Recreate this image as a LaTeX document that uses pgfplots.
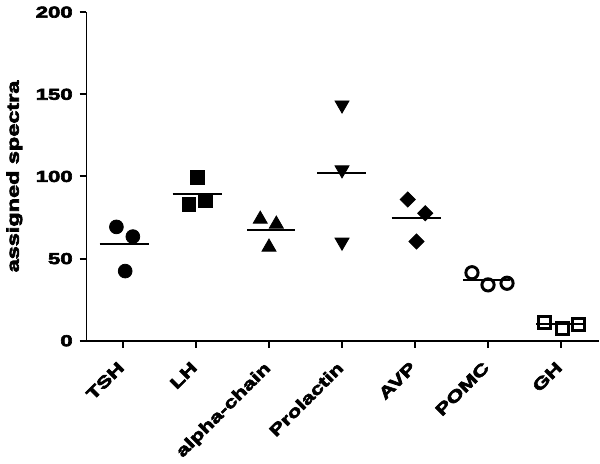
\documentclass[border=0pt]{standalone}
\usepackage{fontspec}
\setmainfont[FakeStretch=1.4, BoldFeatures={FakeBold=4}]{Liberation Sans}
\usepackage{pgfplots}
\pgfplotsset{compat=1.18}
\begin{document}
\begin{tikzpicture}
\begin{axis}[
 scale only axis, width=260pt, height=166.7pt,
 xmin=-0.5, xmax=6.52, ymin=0, ymax=200,
 axis x line*=bottom, axis y line*=left,
 axis line style={-, line width=1pt},
 xtick={0,...,6}, xticklabels={TSH,LH,alpha-chain,Prolactin,AVP,POMC,GH},
 ytick={0,50,100,150,200},
 tick align=outside, major tick length=3.5pt,
 every tick/.style={line width=1pt, black},
 /pgf/number format/assume math mode=true,
 xticklabel style={xshift=-3pt, yshift=-5pt, rotate=45, anchor=north east, font=\bfseries\fontsize{8.2}{9}\selectfont, inner sep=1pt},
 yticklabel style={font=\bfseries\fontsize{8}{9}\selectfont},
 ylabel={assigned spectra},
 ylabel style={font=\bfseries\fontsize{8.5}{10}\selectfont},
 clip=false,
]
% mean lines
\addplot[black, line width=1pt] coordinates {(-0.32,58.8) (0.35,58.8)};
\addplot[black, line width=1pt] coordinates {(0.68,89.4) (1.35,89.4)};
\addplot[black, line width=1pt] coordinates {(1.70,67.6) (2.35,67.6)};
\addplot[black, line width=1pt] coordinates {(2.66,102) (3.33,102)};
\addplot[black, line width=1pt] coordinates {(3.68,74.8) (4.35,74.8)};
\addplot[black, line width=1pt] coordinates {(4.66,37) (5.30,37)};
\addplot[black, line width=1pt] coordinates {(5.66,10) (6.30,10)};
% points
\addplot[only marks, mark=*, mark size=3.5pt, black] coordinates {(-0.09,69.3) (0.135,63.4) (0.03,42.4)};
\addplot[only marks, mark=square*, mark size=3.4pt, black] coordinates {(1.02,99.4) (0.9,83) (1.13,85)};
\addplot[only marks, mark=triangle*, mark size=4.1pt, black] coordinates {(1.88,74) (2.1,71) (2.0,57)};
\addplot[only marks, mark=triangle*, mark size=4.1pt, black, mark options={rotate=180}] coordinates {(3.0,143.5) (3.0,104) (3.0,60)};
\addplot[only marks, mark=square*, mark size=2.7pt, black, mark options={rotate=45}] coordinates {(3.9,86) (4.14,77.6) (4.02,60.4)};
\addplot[only marks, mark=o, mark size=3.1pt, black, mark options={line width=1.5pt, fill=white}] coordinates {(4.78,41.4) (5.0,34) (5.26,35)};
\addplot[only marks, mark=square, mark size=3.1pt, black, mark options={line width=1.4pt}] coordinates {(5.77,11) (6.02,7.6) (6.24,10)};
\end{axis}
\end{tikzpicture}
\end{document}
